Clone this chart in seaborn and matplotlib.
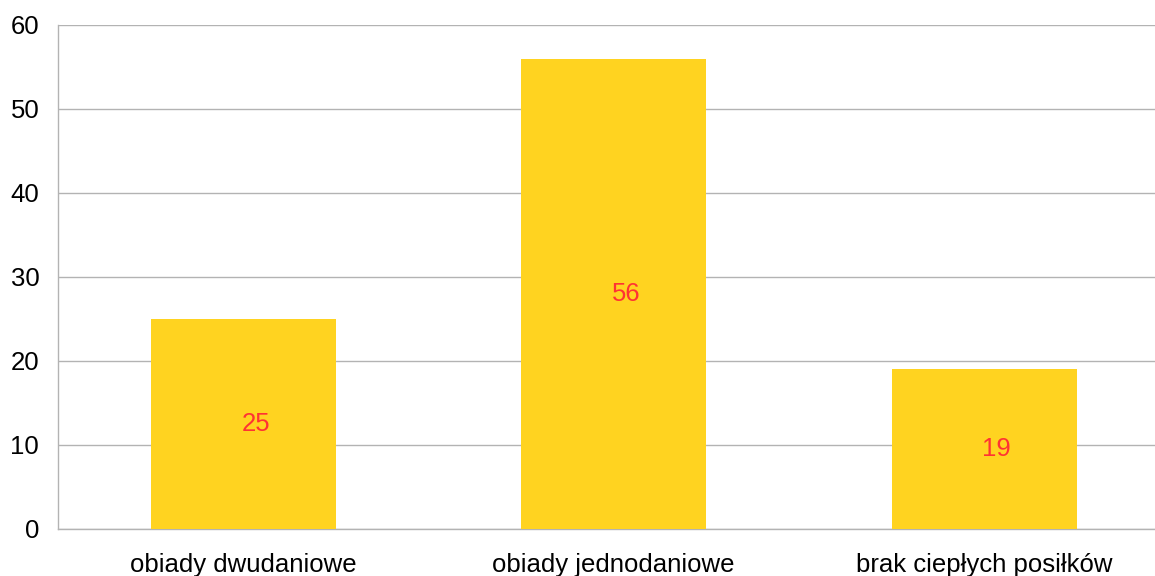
import pandas as pd
import matplotlib.pyplot as plt
import seaborn as sns

categories = ["obiady dwudaniowe", "obiady jednodaniowe", "brak ciepłych posiłków"]
values = [25, 56, 19]

df = pd.DataFrame({"kategoria": categories, "liczba": values})

sns.set_style("white")
plt.rcParams["font.family"] = ["Liberation Sans", "DejaVu Sans"]

grid_color = "#b3b3b3"

fig = plt.figure(figsize=(11.55, 5.76), dpi=100)
# plot area runs slightly past the right edge, as in the original
ax = fig.add_axes([58 / 1155, 47 / 576, 1111.5 / 1155, 504 / 576])

sns.barplot(data=df, x="kategoria", y="liczba", color="#ffd320", saturation=1,
            width=0.5, linewidth=0, ax=ax, zorder=3)

ax.set_xlim(-0.5, 2.5)
ax.set_ylim(0, 60)
ax.set_yticks(range(0, 61, 10))
ax.yaxis.grid(True, color=grid_color, linewidth=1, zorder=0)
ax.set_axisbelow(True)

for s in ["top", "right"]:
    ax.spines[s].set_visible(False)
for s in ["left", "bottom"]:
    ax.spines[s].set_color(grid_color)
    ax.spines[s].set_linewidth(1)

ax.set_xlabel("")
ax.set_ylabel("")

# category separators as minor ticks, labels without ticks
ax.set_xticks([-0.5, 0.5, 1.5, 2.5], minor=True)
ax.tick_params(axis="x", which="minor", length=11, color=grid_color, width=1)
ax.tick_params(axis="x", which="major", length=0, pad=17, labelsize=18.5, labelcolor="black")
ax.tick_params(axis="y", length=11, color=grid_color, width=1, pad=2.5, labelsize=18.5,
               labelcolor="black")

# value labels sit a little right of the bar centre, like in the original
for p, v in zip(ax.patches, values):
    ax.annotate(str(v), (p.get_x() + p.get_width() / 2, v / 2),
                xytext=(9, 0), textcoords="offset points",
                ha="center", va="center", color="#ff3333", fontsize=18.5, zorder=4)

fig.savefig("out.png", dpi=100)
